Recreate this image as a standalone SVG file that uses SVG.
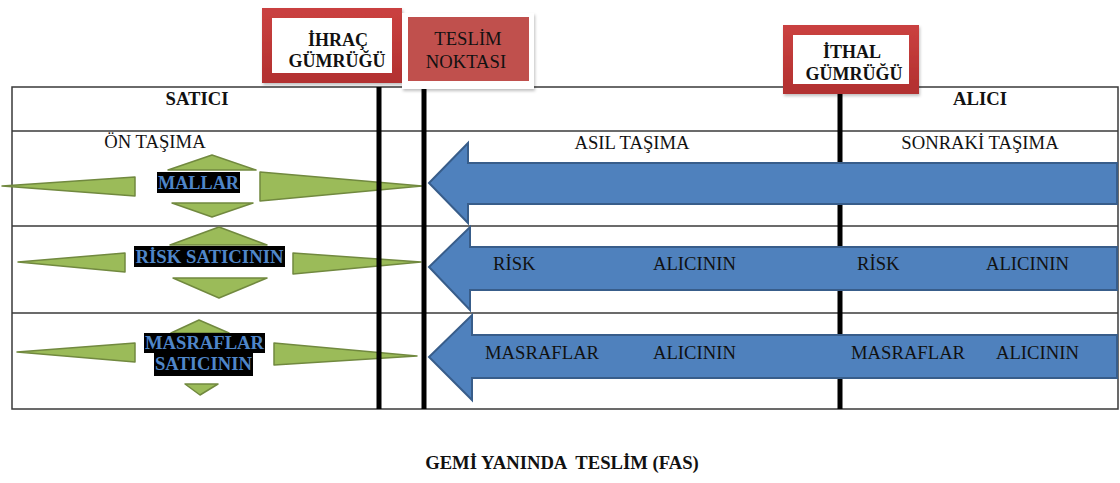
<svg xmlns="http://www.w3.org/2000/svg" width="1120" height="483" viewBox="0 0 1120 483">
  <defs>
    <linearGradient id="redFrame" x1="0" y1="0" x2="0" y2="1">
      <stop offset="0" stop-color="#c9403f"/>
      <stop offset="1" stop-color="#b33130"/>
    </linearGradient>
    <filter id="softShadow" x="-10%" y="-10%" width="125%" height="130%">
      <feDropShadow dx="1" dy="2" stdDeviation="1.5" flood-color="#000" flood-opacity="0.25"/>
    </filter>
  </defs>
  <style>
    text { font-family: "Liberation Serif", "Times New Roman", serif; font-size: 18.67px; fill: #111; }
    .b { font-weight: bold; }
    .mid { text-anchor: middle; }
    .grid { fill: none; stroke: #3a3a3a; stroke-width: 1.5; }
    .divider { stroke: #000; stroke-width: 5; }
    .green { fill: #9bbb59; stroke: #71893f; stroke-width: 1.5; stroke-linejoin: round; }
    .blue { fill: #4f81bd; stroke: #385d8a; stroke-width: 2; stroke-linejoin: miter; }
    .hl { fill: #000; }
    .hltext { font-weight: bold; fill: #4f86c9; text-anchor: middle; }
    .frame { fill: #fff; stroke: url(#redFrame); stroke-width: 10; }
    .boxlabel { font-weight: bold; font-size: 18px; text-anchor: middle; }
  </style>

  <rect width="1120" height="483" fill="#fff"/>

  <!-- table grid -->
  <g id="table">
    <rect class="grid" x="12" y="87" width="1106" height="322"/>
    <line class="grid" x1="12" y1="131" x2="1118" y2="131"/>
    <line class="grid" x1="12" y1="226" x2="1118" y2="226"/>
    <line class="grid" x1="12" y1="313" x2="1118" y2="313"/>
    <text class="b mid" x="197" y="105">SATICI</text>
    <text class="b mid" x="980" y="105">ALICI</text>
    <text class="mid" x="155" y="148">ÖN TAŞIMA</text>
    <text class="mid" x="632" y="149">ASIL TAŞIMA</text>
    <text class="mid" x="980" y="149">SONRAKİ TAŞIMA</text>
  </g>

  <!-- seller side: four-way arrows -->
  <g id="seller-goods">
    <polygon class="green" points="2,186 135,177 135,196"/>
    <polygon class="green" points="260,172 422,186 260,201"/>
    <polygon class="green" points="168,170 212,155 256,170"/>
    <polygon class="green" points="172,203 253,203 212,217"/>
    <rect class="hl" x="157" y="172" width="83" height="21"/>
    <text class="hltext" x="198.5" y="188.5" textLength="81" lengthAdjust="spacingAndGlyphs">MALLAR</text>
  </g>

  <g id="seller-risk">
    <polygon class="green" points="18,262 125,253 125,272"/>
    <polygon class="green" points="293,253 421,262 293,274"/>
    <polygon class="green" points="170,245 219,227 267,245"/>
    <polygon class="green" points="173,278 267,278 219,298"/>
    <rect class="hl" x="134" y="246" width="151" height="21"/>
    <text class="hltext" x="209.5" y="262.5" textLength="148" lengthAdjust="spacingAndGlyphs">RİSK SATICININ</text>
  </g>

  <g id="seller-costs">
    <polygon class="green" points="17,352 135,343 135,362"/>
    <polygon class="green" points="274,343 417,356 274,365"/>
    <polygon class="green" points="171,333 199,320 229,333"/>
    <polygon class="green" points="185,384 218,384 200,395"/>
    <rect class="hl" x="144" y="333" width="121" height="20"/>
    <rect class="hl" x="154" y="353" width="99" height="23"/>
    <text class="hltext" x="204.5" y="349" textLength="119" lengthAdjust="spacingAndGlyphs">MASRAFLAR</text>
    <text class="hltext" x="203.5" y="370" textLength="97" lengthAdjust="spacingAndGlyphs">SATICININ</text>
  </g>

  <!-- boundary lines -->
  <g id="connectors">
    <line class="divider" x1="379" y1="87" x2="379" y2="409"/>
    <line class="divider" x1="424" y1="87" x2="424" y2="409"/>
    <line class="divider" x1="840" y1="94" x2="840" y2="409"/>
  </g>

  <!-- buyer side: block arrows -->
  <g id="buyer-goods">
    <polygon class="blue" points="429,183 468,143 468,163 1117,163 1117,204 468,204 468,223"/>
  </g>

  <g id="buyer-risk">
    <polygon class="blue" points="429,267 470,227 470,247 1117,247 1117,290 470,290 470,310"/>
    <text x="493" y="270">RİSK</text>
    <text x="653" y="270">ALICININ</text>
    <text x="857" y="270">RİSK</text>
    <text x="986" y="270">ALICININ</text>
  </g>

  <g id="buyer-costs">
    <polygon class="blue" points="429,357 472,315 472,335 1117,335 1117,378 472,378 472,400"/>
    <text x="485" y="359">MASRAFLAR</text>
    <text x="653" y="359">ALICININ</text>
    <text x="851" y="359">MASRAFLAR</text>
    <text x="996" y="359">ALICININ</text>
  </g>

  <!-- customs and delivery point markers -->
  <g id="export-customs">
    <rect class="frame" x="267" y="13" width="130" height="65" filter="url(#softShadow)"/>
    <text class="boxlabel" x="338" y="46">İHRAÇ</text>
    <text class="boxlabel" x="337" y="67" textLength="97" lengthAdjust="spacingAndGlyphs">GÜMRÜĞÜ</text>
  </g>

  <g id="delivery-point">
    <rect x="402" y="13" width="132" height="76" fill="#fff" filter="url(#softShadow)"/>
    <rect x="408" y="17" width="121" height="64" fill="#c0504d"/>
    <text class="mid" x="468" y="45">TESLİM</text>
    <text class="mid" x="466" y="68">NOKTASI</text>
  </g>

  <g id="import-customs">
    <rect class="frame" x="788" y="30" width="126" height="59" filter="url(#softShadow)"/>
    <text class="boxlabel" x="852" y="58">İTHAL</text>
    <text class="boxlabel" x="854" y="80" textLength="97" lengthAdjust="spacingAndGlyphs">GÜMRÜĞÜ</text>
  </g>

  <g id="caption">
    <text class="b mid" x="562" y="469" xml:space="preserve">GEMİ YANINDA  TESLİM (FAS)</text>
  </g>
</svg>
